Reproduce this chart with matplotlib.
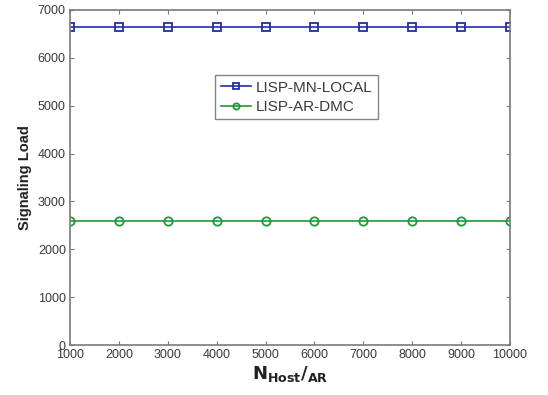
import matplotlib

matplotlib.use("Agg")
import matplotlib.pyplot as plt
import numpy as np

plt.rcParams["font.family"] = ["Liberation Sans", "DejaVu Sans"]

n_host_per_ar = [1000, 2000, 3000, 4000, 5000, 6000, 7000, 8000, 9000, 10000]
load_mn_local = [6650] * 10
load_ar_dmc = [2600] * 10

FRAME = "#7a7a7a"
TEXT = "#3a3a3a"

fig = plt.figure(figsize=(5.48, 3.95), dpi=100)
ax = fig.add_axes([70 / 548, 50 / 395, 440 / 548, 335 / 395])

ax.plot(n_host_per_ar, load_mn_local, color="#1f2fa8", linewidth=1.2,
        marker="s", markersize=6, markerfacecolor="none", markeredgewidth=1.3,
        label="LISP-MN-LOCAL")
ax.plot(n_host_per_ar, load_ar_dmc, color="#1f9a3a", linewidth=1.2,
        marker="o", markersize=6, markerfacecolor="none", markeredgewidth=1.3,
        label="LISP-AR-DMC")

ax.set_xlim(1000, 10000)
ax.set_ylim(0, 7000)
ax.set_xticks(n_host_per_ar)
ax.set_yticks(np.arange(0, 7001, 1000))
ax.tick_params(direction="in", top=True, right=True, length=3, color=FRAME,
               labelsize=9, labelcolor=TEXT, pad=3)
for spine in ax.spines.values():
    spine.set_color(FRAME)
    spine.set_linewidth(1.2)

ax.set_ylabel("Signaling Load", fontsize=10.5, fontweight="bold", color="#222222")
ax.set_xlabel(r"$\mathbf{N_{Host}/_{AR}}$", fontsize=13, color="#222222", labelpad=2)

leg = ax.legend(loc="upper left", bbox_to_anchor=(0.33, 0.805), fontsize=11,
                frameon=True, fancybox=False, borderpad=0.35, handlelength=2.0,
                handletextpad=0.3, labelspacing=0.35, borderaxespad=0,
                markerscale=0.75)
leg.get_frame().set_edgecolor("#666666")
leg.get_frame().set_linewidth(1.0)
for txt in leg.get_texts():
    txt.set_color(TEXT)

fig.savefig("out.png", dpi=100)
